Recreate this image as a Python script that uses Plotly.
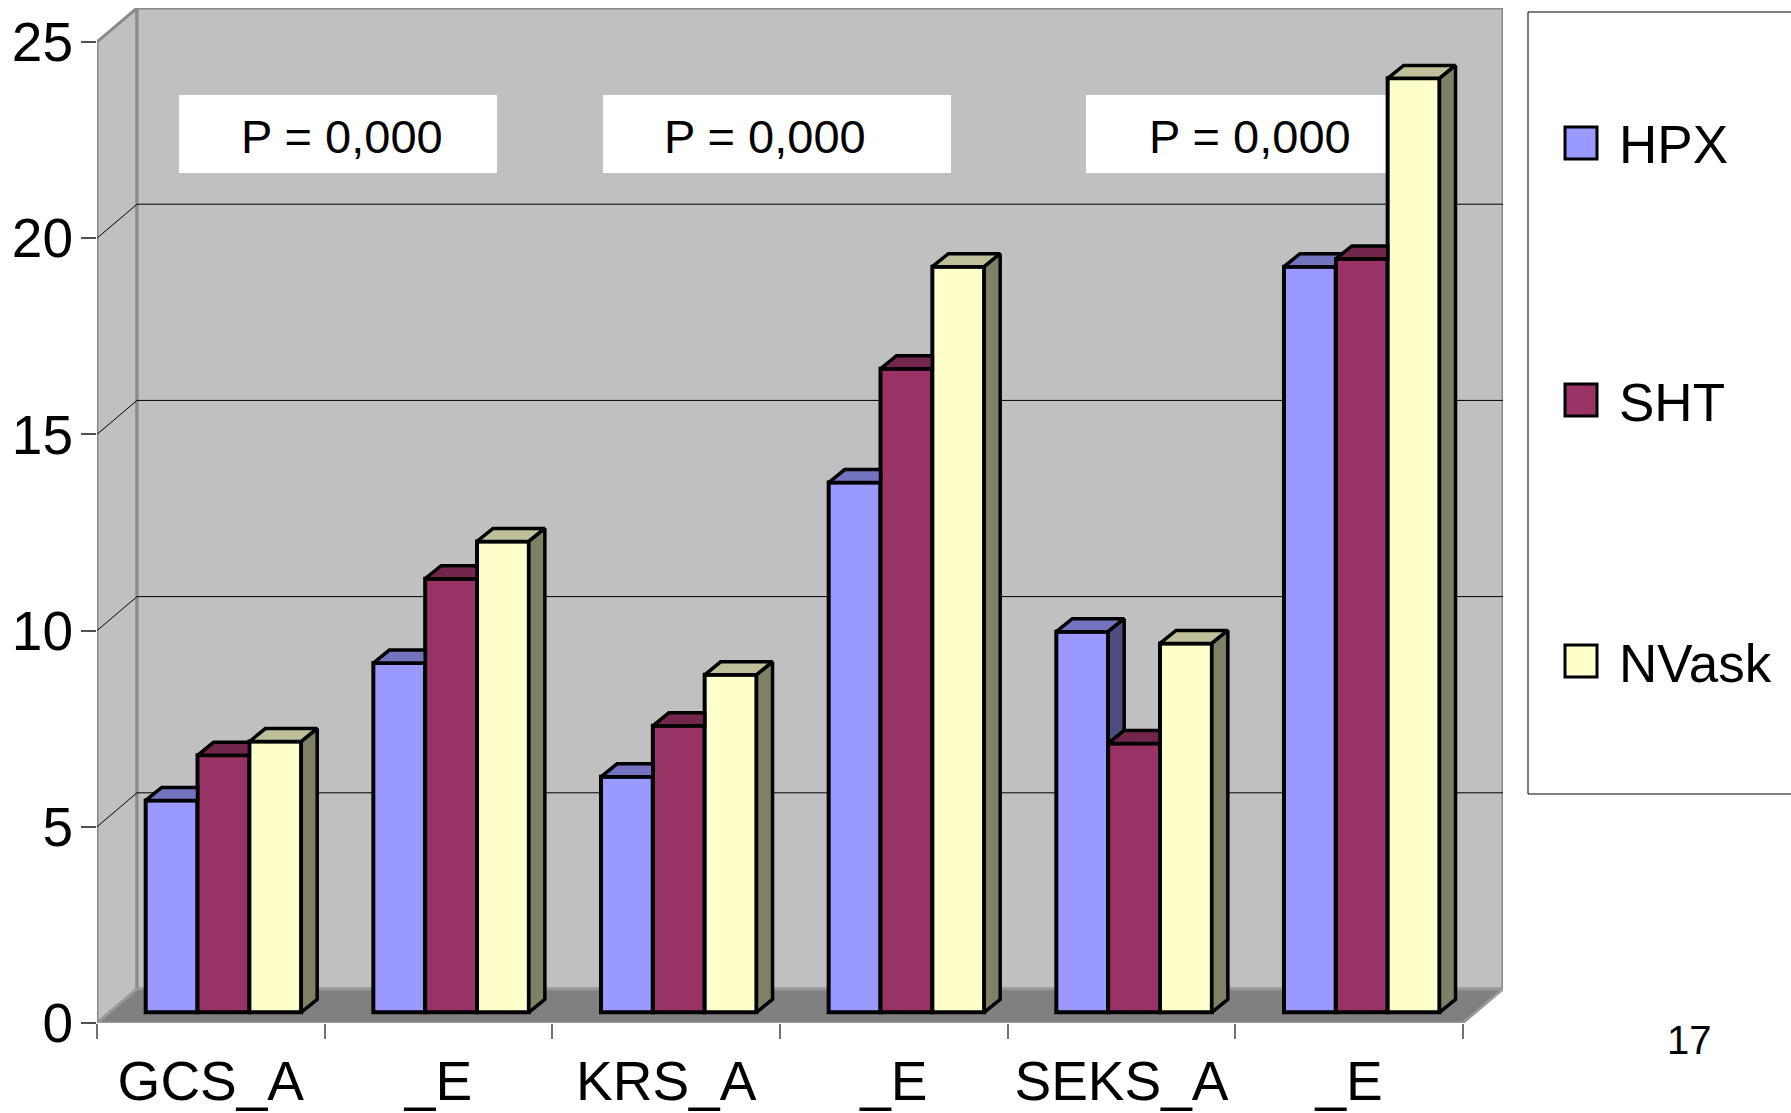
import plotly.graph_objects as go

# ---- data -------------------------------------------------------------
categories = ["GCS_A", "_E", "KRS_A", "_E", "SEKS_A", "_E"]
series_names = ["HPX", "SHT", "NVask"]
hpx = [5.4, 8.9, 6.0, 13.5, 9.7, 19.0]
sht = [6.55, 11.05, 7.3, 16.4, 6.85, 19.2]
nvask = [6.9, 12.0, 8.6, 19.0, 9.4, 23.8]
y_ticks = [0, 5, 10, 15, 20, 25]
p_labels = ["P = 0,000", "P = 0,000", "P = 0,000"]
page_number = "17"

values = [hpx, sht, nvask]

# ---- style ------------------------------------------------------------
FONT = "Liberation Sans, Arial, sans-serif"
front_colors = ["#9999FF", "#993366", "#FFFFCC"]
top_colors = ["#7373BF", "#73264C", "#BFBF99"]
side_colors = ["#4D4D80", "#4D1A33", "#808066"]
WALL_FILL = "#C0C0C0"
WALL_EDGE = "#8A8A8A"
FLOOR_FILL = "#808080"
OUTLINE = 4

# ---- 3-D pseudo-perspective geometry (in axis units) -------------------
n = len(categories)
Y_TOP = 25                # top of the walls
WALL_DX = 0.1758          # depth offset of the back wall, category units
WALL_DY = 0.866           # depth offset of the back wall, value units
X_MAX = n + WALL_DX
Y_MAX = Y_TOP + WALL_DY
BAR_W = 0.2277
FRONT = 0.315             # depth fraction where the bar fronts sit
SHIFT_X = FRONT * WALL_DX
BASE = FRONT * WALL_DY
BAR_DX = 0.0703           # bar depth, category units
BAR_DY = 0.331            # bar depth, value units

W, H = 1791, 1113
ML, MR, MT, MB = 97, 288, 8, 90
PW, PH = W - ML - MR, H - MT - MB


def px_x(px):
    return (px - ML) / PW


def px_y(py):
    return (H - MB - py) / PH


def data_x(px):
    return px_x(px) * X_MAX


def data_y(py):
    return px_y(py) * Y_MAX


fig = go.Figure()

# front faces of the columns
centers = []
for k, (name, vals) in enumerate(zip(series_names, values)):
    xs = [i + 0.5 + (k - 1) * BAR_W + SHIFT_X for i in range(n)]
    centers.append(xs)
    fig.add_trace(go.Bar(
        x=xs, y=vals, base=[BASE] * n, width=BAR_W, name=name,
        marker=dict(color=front_colors[k], line=dict(color="black", width=OUTLINE)),
        hoverinfo="skip", showlegend=False,
    ))

# top and side faces, trimmed where the neighbouring column hides them
for k in range(3):
    tx, ty, sx, sy = [], [], [], []
    for i in range(n):
        xc = centers[k][i]
        xl, xr = xc - BAR_W / 2, xc + BAR_W / 2
        top = BASE + values[k][i]
        nxt = BASE + values[k + 1][i] if k < 2 else None

        A = (xl, top)
        Bp = (xr, top)
        C = (xr + BAR_DX, top + BAR_DY)
        D = (xl + BAR_DX, top + BAR_DY)
        if nxt is None or nxt <= top:
            poly = [A, Bp, C, D]
        elif nxt >= top + BAR_DY:
            poly = [A, Bp, (xr, top + BAR_DY), D]
        else:
            f = (nxt - top) / BAR_DY
            poly = [A, Bp, (xr, nxt), (xr + f * BAR_DX, nxt), C, D]
        for px_, py_ in poly + [poly[0]]:
            tx.append(px_)
            ty.append(py_)
        tx.append(None)
        ty.append(None)

        lo = BASE if nxt is None else nxt
        if lo < top:
            side = [(xr, lo), (xr + BAR_DX, lo + BAR_DY),
                    (xr + BAR_DX, top + BAR_DY), (xr, top)]
            for px_, py_ in side + [side[0]]:
                sx.append(px_)
                sy.append(py_)
            sx.append(None)
            sy.append(None)

    fig.add_trace(go.Scatter(
        x=tx, y=ty, mode="lines", fill="toself", fillcolor=top_colors[k],
        line=dict(color="black", width=OUTLINE - 0.5), hoverinfo="skip", showlegend=False))
    fig.add_trace(go.Scatter(
        x=sx, y=sy, mode="lines", fill="toself", fillcolor=side_colors[k],
        line=dict(color="black", width=OUTLINE - 0.5), hoverinfo="skip", showlegend=False))

# ---- walls, floor and gridlines ---------------------------------------
shapes = []
shapes.append(dict(
    type="path", xref="x", yref="y", layer="below",
    path=f"M0,0 L{WALL_DX},{WALL_DY} L{WALL_DX},{Y_TOP + WALL_DY} L0,{Y_TOP} Z",
    fillcolor=WALL_FILL, line=dict(color=WALL_EDGE, width=3)))
shapes.append(dict(
    type="rect", xref="x", yref="y", layer="below",
    x0=WALL_DX, y0=WALL_DY, x1=n + WALL_DX, y1=Y_TOP + WALL_DY,
    fillcolor=WALL_FILL, line=dict(color=WALL_EDGE, width=3)))
shapes.append(dict(
    type="path", xref="x", yref="y", layer="below",
    path=f"M0,0 L{n},0 L{n + WALL_DX},{WALL_DY} L{WALL_DX},{WALL_DY} Z",
    fillcolor=FLOOR_FILL, line=dict(color="#9A9A9A", width=2.5)))
for v in y_ticks[1:-1]:
    shapes.append(dict(type="line", xref="x", yref="y", layer="below",
                       x0=0, y0=v, x1=WALL_DX, y1=v + WALL_DY,
                       line=dict(color="black", width=1)))
    shapes.append(dict(type="line", xref="x", yref="y", layer="below",
                       x0=WALL_DX, y0=v + WALL_DY, x1=n + WALL_DX, y1=v + WALL_DY,
                       line=dict(color="black", width=1)))

# white boxes holding the p-values, on the back wall under the columns
p_boxes = [(179, 497), (603, 951), (1086, 1404)]
p_text_x = [342, 765, 1250]
annotations = []
for (x0, x1), tx_, lab in zip(p_boxes, p_text_x, p_labels):
    shapes.append(dict(type="rect", xref="x", yref="y", layer="below",
                       x0=data_x(x0), x1=data_x(x1), y0=data_y(173), y1=data_y(95),
                       fillcolor="white", line=dict(width=0)))
    annotations.append(dict(xref="paper", yref="paper", x=px_x(tx_), y=px_y(136),
                            text=lab, showarrow=False, xanchor="center", yanchor="middle",
                            font=dict(family=FONT, size=47, color="black")))

# legend drawn as a framed panel
shapes.append(dict(type="rect", xref="paper", yref="paper", layer="above",
                   x0=px_x(1528), x1=px_x(1830), y0=px_y(794), y1=px_y(12),
                   fillcolor="white", line=dict(color="black", width=1)))
legend_y = [143, 400, 661]
for k, (name, ly) in enumerate(zip(series_names, legend_y)):
    shapes.append(dict(type="rect", xref="paper", yref="paper", layer="above",
                       x0=px_x(1565), x1=px_x(1597), y0=px_y(ly + 16), y1=px_y(ly - 16),
                       fillcolor=front_colors[k], line=dict(color="black", width=3)))
    annotations.append(dict(xref="paper", yref="paper", x=px_x(1617), y=px_y(ly + 2),
                            text=name, showarrow=False, xanchor="left", yanchor="middle",
                            font=dict(family=FONT, size=53, color="black")))

annotations.append(dict(xref="paper", yref="paper", x=px_x(1690), y=px_y(1040),
                        text=page_number, showarrow=False, xanchor="center",
                        yanchor="middle", font=dict(family=FONT, size=40, color="black")))

fig.update_layout(
    width=W, height=H,
    margin=dict(l=ML, r=MR, t=MT, b=MB, pad=0, autoexpand=False),
    paper_bgcolor="white", plot_bgcolor="white",
    barmode="overlay", showlegend=False,
    font=dict(family=FONT, size=52, color="black"),
    shapes=shapes, annotations=annotations,
    xaxis=dict(
        range=[0, X_MAX], tickmode="array",
        tickvals=[i + 0.5 for i in range(n)], ticktext=categories,
        ticks="", showgrid=False, zeroline=False, showline=False,
        tickfont=dict(family=FONT, size=55, color="black"),
        ticklabelstandoff=21, automargin=False,
        minor=dict(tickmode="array", tickvals=list(range(n + 1)),
                   ticks="outside", ticklen=15, tickwidth=1.5,
                   tickcolor="#707070", showgrid=False),
        fixedrange=True,
    ),
    yaxis=dict(
        range=[0, Y_MAX], tickmode="array", tickvals=y_ticks,
        ticks="outside", ticklen=15, tickwidth=1.5, tickcolor="#505050",
        showgrid=False, zeroline=False, showline=False,
        tickfont=dict(family=FONT, size=55, color="black"),
        ticklabelstandoff=-3, automargin=False, fixedrange=True,
    ),
)

fig.write_html("out.html", config={"displayModeBar": False})
